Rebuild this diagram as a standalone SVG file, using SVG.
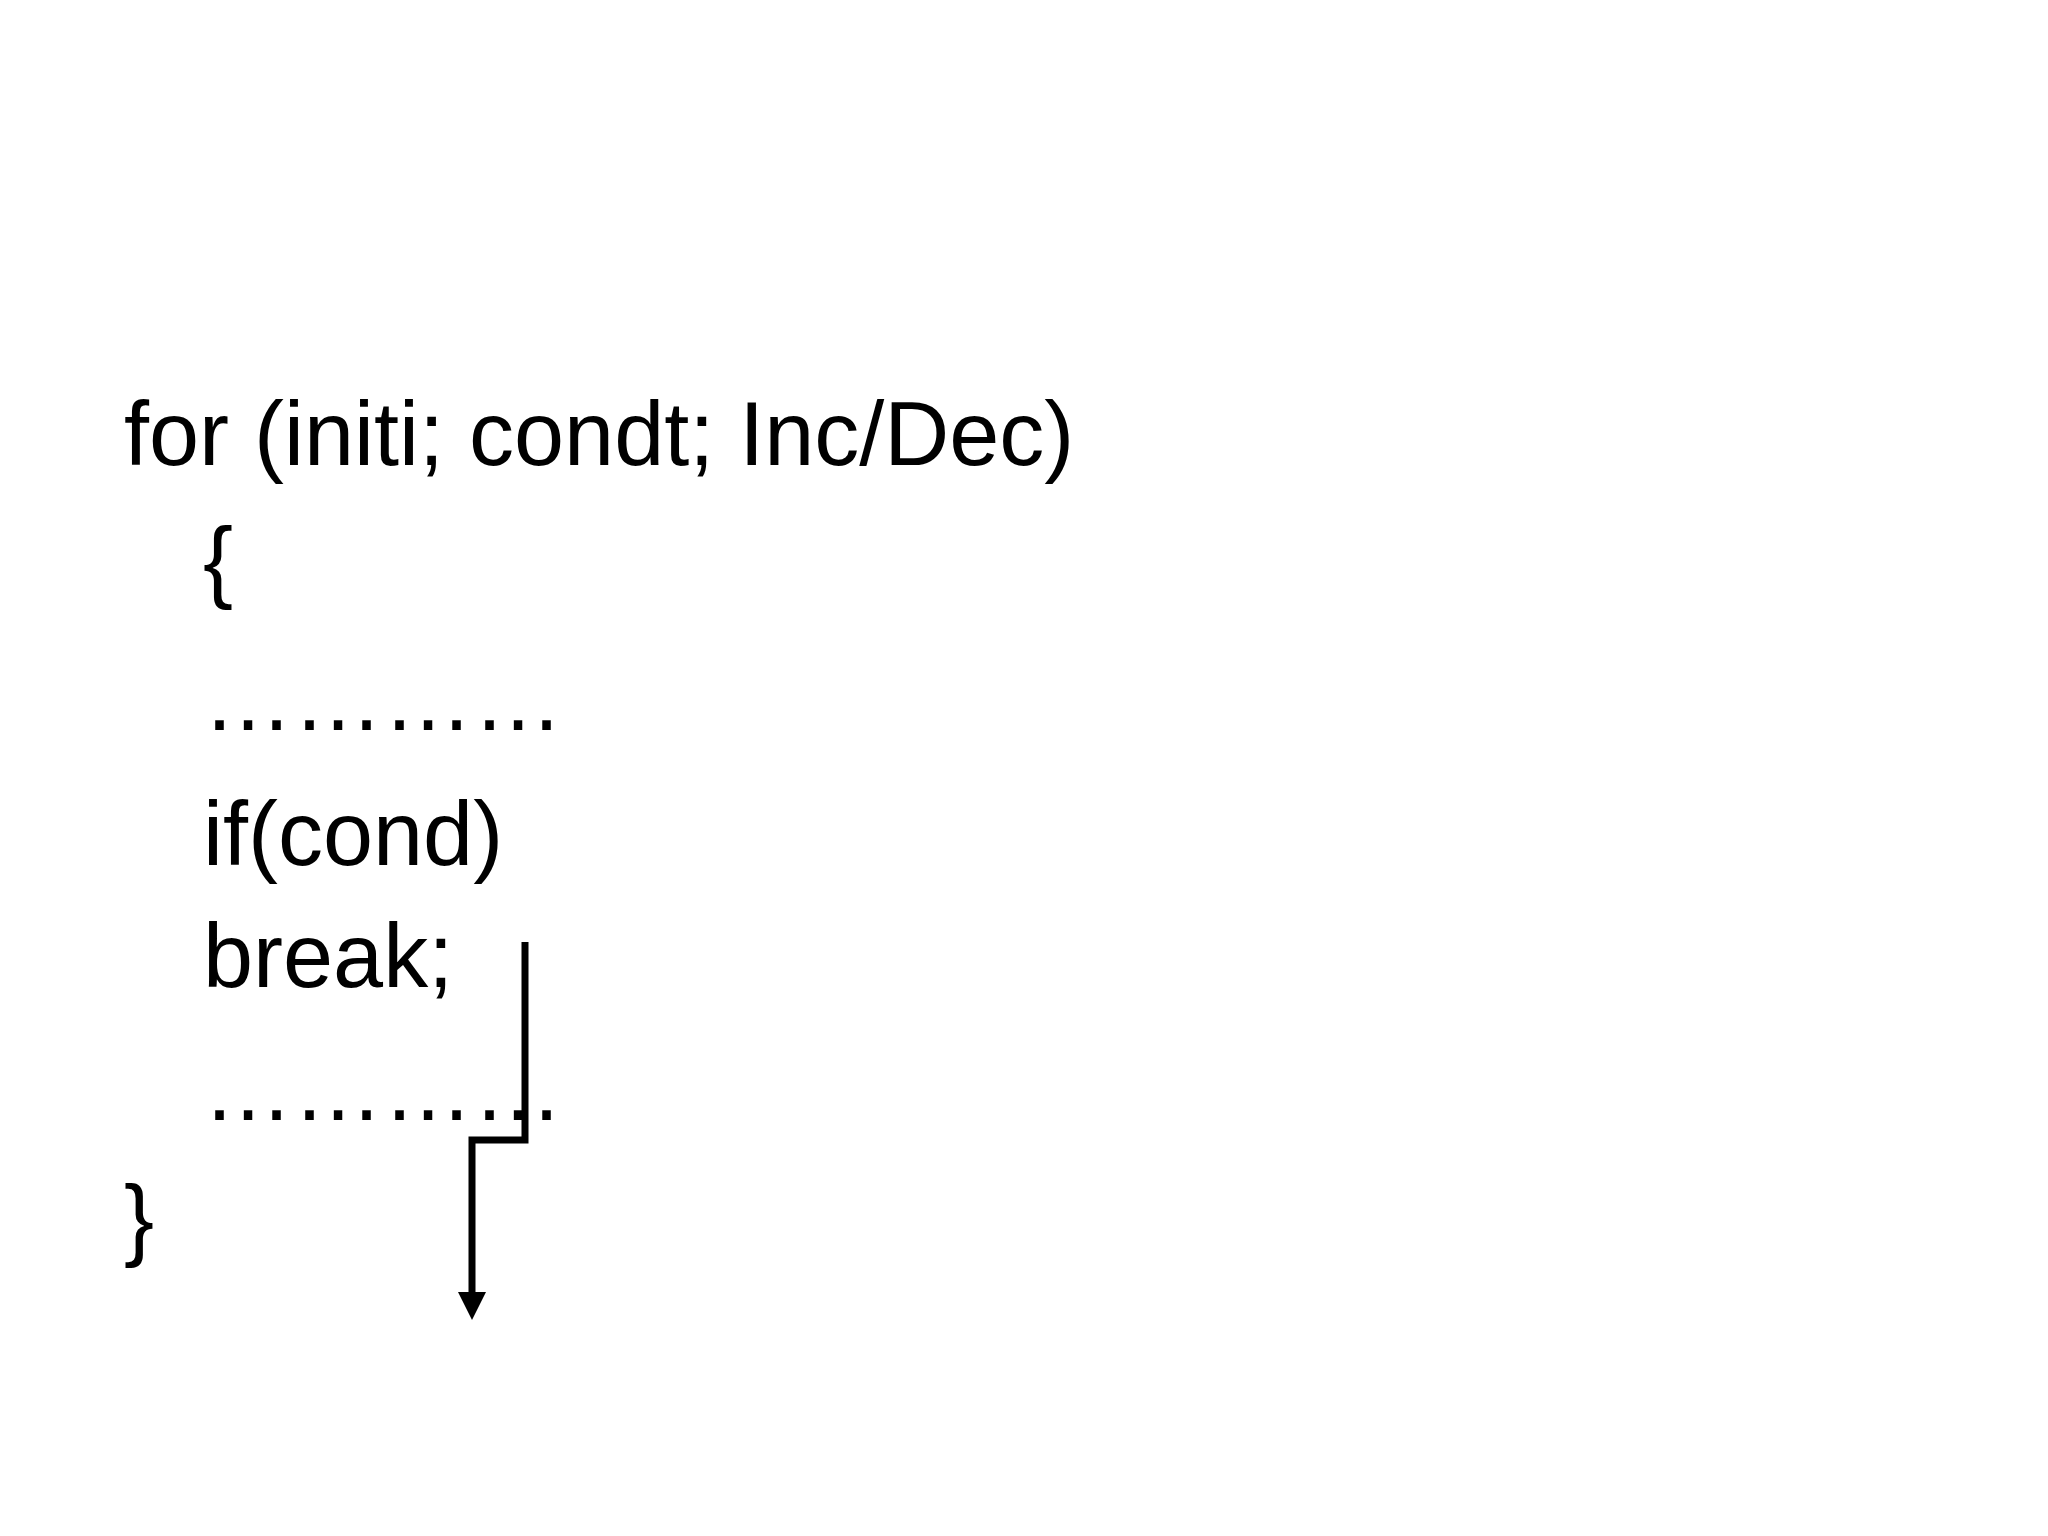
<svg xmlns="http://www.w3.org/2000/svg" width="2048" height="1536" viewBox="0 0 2048 1536">
<style>
text{font-family:"Liberation Sans",Arial,sans-serif;font-size:90px;fill:#000}
.c{fill:none;stroke:#000;stroke-width:7}
</style>
<defs><marker id="ah" markerUnits="userSpaceOnUse" markerWidth="26" markerHeight="26" refX="13" refY="25" orient="auto-start-reverse" viewBox="0 0 26 26"><path d="M0,0 L26,0 L13,26 Z" fill="#000" transform="rotate(0)"/></marker></defs>
<rect width="2048" height="1536" fill="#fff"/>
<g id="code">
<text x="124" y="465">for (initi; condt; Inc/Dec)</text>
<text x="203" y="591">{</text>
<text x="203" y="730">…………</text>
<text x="203" y="865">if(cond)</text>
<text x="203" y="987">break;</text>
<text x="203" y="1120">…………</text>
<text x="124" y="1249">}</text>
</g>
<g id="connectors">
<polyline class="c" points="525,942 525,1140 472,1140 472,1292"/>
<path d="M458,1292 L486,1292 L472,1320 Z" fill="#000"/>
</g>
</svg>
